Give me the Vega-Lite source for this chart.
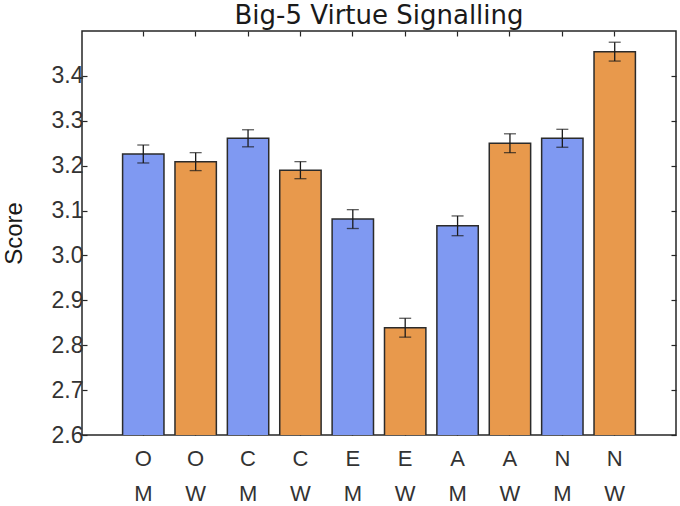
{
  "$schema": "https://vega.github.io/schema/vega-lite/v6.json",
  "width": 594,
  "height": 404,
  "autosize": {"type": "none"},
  "padding": {"left": 82, "top": 31, "right": 4, "bottom": 71},
  "title": {
    "text": "Big-5 Virtue Signalling",
    "font": "DejaVu Sans",
    "fontSize": 26,
    "fontWeight": "normal",
    "color": "#1a1a1a",
    "offset": 1
  },
  "config": {
    "view": {"stroke": "#262626", "strokeWidth": 1.5},
    "axis": {
      "domain": false,
      "grid": false,
      "tickColor": "#262626",
      "tickWidth": 1.2,
      "tickSize": -5,
      "labelFont": "Liberation Sans",
      "labelFontSize": 23,
      "labelColor": "#333333",
      "titleFont": "Liberation Sans",
      "titleFontSize": 24,
      "titleFontWeight": "normal",
      "titleColor": "#1a1a1a"
    }
  },
  "data": {
    "values": [
      {"label": "O M", "sex": "M", "score": 3.226, "low": 3.206, "high": 3.246},
      {"label": "O W", "sex": "W", "score": 3.209, "low": 3.189, "high": 3.229},
      {"label": "C M", "sex": "M", "score": 3.261, "low": 3.242, "high": 3.280},
      {"label": "C W", "sex": "W", "score": 3.190, "low": 3.171, "high": 3.209},
      {"label": "E M", "sex": "M", "score": 3.081, "low": 3.060, "high": 3.102},
      {"label": "E W", "sex": "W", "score": 2.839, "low": 2.818, "high": 2.860},
      {"label": "A M", "sex": "M", "score": 3.066, "low": 3.044, "high": 3.088},
      {"label": "A W", "sex": "W", "score": 3.250, "low": 3.229, "high": 3.271},
      {"label": "N M", "sex": "M", "score": 3.261, "low": 3.241, "high": 3.281},
      {"label": "N W", "sex": "W", "score": 3.454, "low": 3.433, "high": 3.475}
    ]
  },
  "resolve": {"axis": {"x": "independent", "y": "independent"}},
  "layer": [
    {
      "mark": {"type": "bar", "stroke": "#2b2b2b", "strokeWidth": 1.5, "clip": true},
      "encoding": {
        "x": {
          "field": "label", "type": "nominal", "sort": null,
          "scale": {"paddingInner": 0.21, "paddingOuter": 0.775},
          "axis": {
            "orient": "bottom", "title": null, "labelAngle": 0,
            "labelExpr": "split(datum.value, ' ')",
            "labelFontSize": 22,
            "labelLineHeight": 35, "labelPadding": 18
          }
        },
        "y": {
          "field": "score", "type": "quantitative",
          "scale": {"domain": [2.6, 3.5], "zero": false, "nice": false},
          "axis": {
            "orient": "left", "title": "Score", "values": [2.6, 2.7, 2.8, 2.9, 3.0, 3.1, 3.2, 3.3, 3.4],
            "format": ".1f", "labelPadding": 4,
            "titleX": -68, "titleY": 202, "titleBaseline": "middle", "titleAngle": -90
          }
        },
        "color": {
          "field": "sex", "type": "nominal", "legend": null,
          "scale": {"domain": ["M", "W"], "range": ["#7f99f2", "#e8994c"]}
        }
      }
    },
    {
      "mark": {"type": "rule", "color": "#1a1a1a", "strokeWidth": 1.3},
      "encoding": {
        "x": {
          "field": "label", "type": "nominal", "sort": null,
          "axis": {"orient": "top", "title": null, "labels": false}
        },
        "y": {
          "field": "low", "type": "quantitative",
          "axis": {"orient": "right", "title": null, "labels": false, "values": [2.6, 2.7, 2.8, 2.9, 3.0, 3.1, 3.2, 3.3, 3.4]}
        },
        "y2": {"field": "high"}
      }
    },
    {
      "mark": {"type": "tick", "color": "#1a1a1a", "thickness": 1.3, "size": 12},
      "encoding": {
        "x": {"field": "label", "type": "nominal", "sort": null, "axis": null},
        "y": {"field": "low", "type": "quantitative", "axis": null}
      }
    },
    {
      "mark": {"type": "tick", "color": "#1a1a1a", "thickness": 1.3, "size": 12},
      "encoding": {
        "x": {"field": "label", "type": "nominal", "sort": null, "axis": null},
        "y": {"field": "high", "type": "quantitative", "axis": null}
      }
    }
  ]
}
